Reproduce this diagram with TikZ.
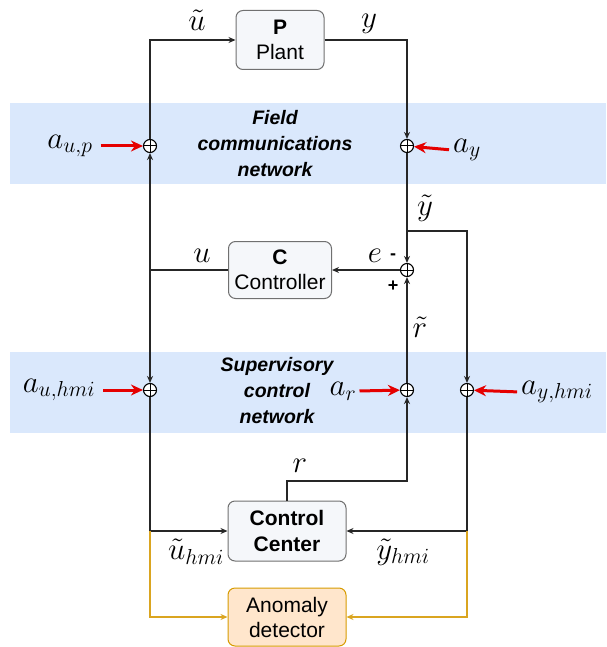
\documentclass[tikz,border=0pt]{standalone}
\DeclareFontShape{OML}{cmm}{m}{it}{<-8>cmmi7<8-11>cmmi10<11->cmmi12}{}
\DeclareFontShape{OT1}{cmr}{m}{n}{<-8>cmr7<8-11>cmr10<11->cmr12}{}
\DeclareFontShape{OMS}{cmsy}{m}{n}{<-8>cmsy7<8->cmsy10}{}
\usepackage{fontspec}
\setmainfont{Liberation Sans}
\usetikzlibrary{arrows.meta,calc}
\definecolor{bandblue}{HTML}{DAE8FC}
\definecolor{boxfill}{HTML}{F5F7FA}
\definecolor{boxline}{HTML}{707070}
\definecolor{orfill}{HTML}{FFE6CC}
\definecolor{orline}{HTML}{D79B00}
\definecolor{orwire}{HTML}{DAA520}
\tikzset{
  blk/.style={draw=boxline, fill=boxfill, rounded corners=7pt, line width=1pt, align=center, inner sep=0pt, font=\fontsize{21}{25}\selectfont},
  orblk/.style={blk, draw=orline, fill=orfill},
  wire/.style={line width=1.2pt, draw=black!85},
  arr/.style={wire, -{Stealth[length=7pt,width=6pt]}},
  orarr/.style={line width=1.2pt, draw=orwire, -{Stealth[length=7pt,width=6pt]}},
  redarr/.style={line width=3pt, draw=red!90!black, -{Stealth[length=12pt,width=11pt]}, shorten <=7pt},
  sumj/.style={circle, draw=black, fill=white, line width=1.1pt, minimum size=13pt, inner sep=0pt,
    path picture={\draw[line width=1pt] (path picture bounding box.north) -- (path picture bounding box.south)
      (path picture bounding box.west) -- (path picture bounding box.east);}},
  mlab/.style={font=\fontsize{31}{34}\selectfont, inner sep=1pt},
  netlab/.style={font=\fontsize{19.5}{26}\selectfont\bfseries\itshape, align=center},
  sgn/.style={font=\fontsize{18}{20}\selectfont\bfseries, inner sep=0pt}
}
\begin{document}
\begin{tikzpicture}[x=1pt,y=-1pt]
\useasboundingbox (0,0) rectangle (606,647);
% bands
\fill[bandblue] (10,103) rectangle (606,184);
\fill[bandblue] (10,352) rectangle (606,433);
\node[netlab] (fcn) at (275,144) {Field\\communications\\network};
\node[netlab] (scn) at (277,391) {Supervisory\\control\\network};
% blocks
\node[blk, minimum width=88pt, minimum height=59pt] (plant) at (280,40) {\textbf{P}\\Plant};
\node[blk, minimum width=103pt, minimum height=57pt] (ctrl) at (280,270) {\textbf{C}\\Controller};
\node[blk, minimum width=118pt, minimum height=60pt, font=\fontsize{21}{26}\selectfont\bfseries] (cc) at (287,531) {Control\\Center};
\node[orblk, minimum width=118pt, minimum height=58pt] (ad) at (287,617) {Anomaly\\detector};
% junctions
\node[sumj] (j1) at (150,146) {};
\node[sumj] (j2) at (407,146) {};
\node[sumj] (sum) at (407,270) {};
\node[sumj] (j3) at (150,390) {};
\node[sumj] (j4) at (407,390) {};
\node[sumj] (j5) at (467,390) {};
% helper coordinates
\coordinate (yb) at (407,231);
\coordinate (ul) at (150,270);
\coordinate (rc) at (407,481);
\coordinate (uh) at (150,531);
\coordinate (yh) at (467,531);
% wires
\draw[arr] (j1) |- (plant.west);
\draw[arr] (plant.east) -| (j2);
\draw[arr] (j2) -- (sum);
\draw[arr] (yb) -| (j5);
\draw[arr] (sum) -- (ctrl.east);
\draw[wire] (ctrl.west) -- (ul);
\draw[arr] (ul) -- (j1);
\draw[arr] (ul) -- (j3);
\draw[arr] (j4) -- (sum);
\draw[arr] (cc.north) |- (rc) -- (j4);
\draw[arr] (j3) |- (cc.west);
\draw[arr] (j5) |- (cc.east);
\draw[orarr] (uh) |- (ad.west);
\draw[orarr] (yh) |- (ad.east);
% labels
\node[mlab] (lut) at (197,20) {$\tilde u$};
\node[mlab] (ly) at (369,24) {$y$};
\node[mlab] (lyt) at (425,208) {$\tilde y$};
\node[mlab] (lu) at (202,256) {$u$};
\node[mlab] (le) at (375,256) {$e$};
\node[sgn] (lm) at (393,257) {-};
\node[sgn] (lp) at (393,286) {+};
\node[mlab] (lrt) at (420,327) {$\tilde r$};
\node[mlab] (lr) at (300,466) {$r$};
\node[mlab] (luh) at (196,552) {$\tilde u_{hmi}$};
\node[mlab] (lyh) at (403,552) {$\tilde y_{hmi}$};
% attack labels and arrows
\node[mlab] (aup) at (70,146) {$a_{u,p}$};
\node[mlab] (ay) at (467,150) {$a_y$};
\node[mlab] (auh) at (59,390) {$a_{u,hmi}$};
\node[mlab] (ar) at (343,391) {$a_r$};
\node[mlab] (ayh) at (557,392) {$a_{y,hmi}$};
\draw[redarr] (aup.east) -- (j1);
\draw[redarr, shorten <=3pt] (ay.west) -- (j2);
\draw[redarr] (auh.east) -- (j3);
\draw[redarr, shorten <=2pt] (ar.east) -- (j4);
\draw[redarr, shorten <=3pt] (ayh.west) -- (j5);
\end{tikzpicture}
\end{document}
